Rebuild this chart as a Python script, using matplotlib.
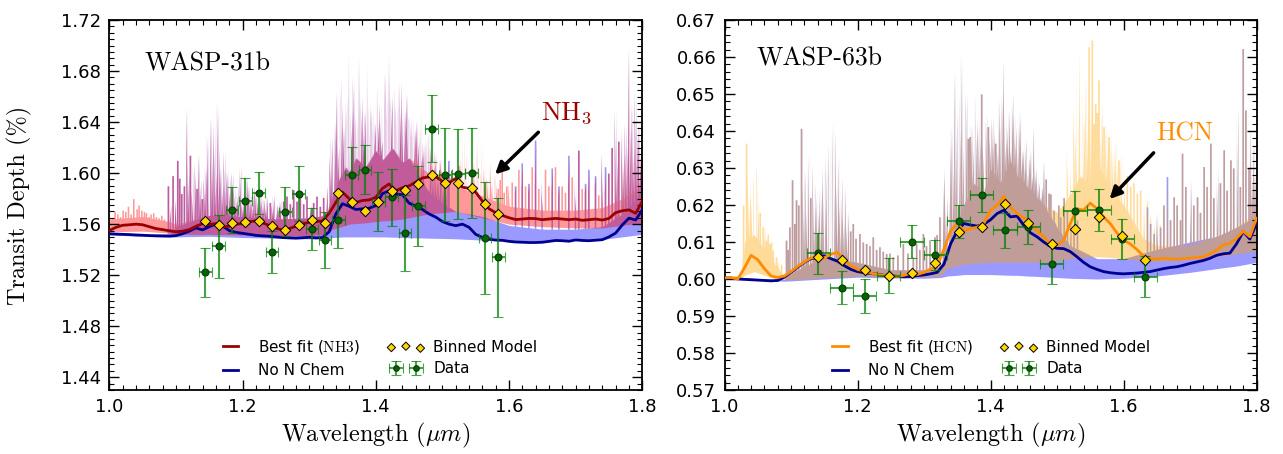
import numpy as np
import matplotlib
matplotlib.use('Agg')
import matplotlib.pyplot as plt
from matplotlib.ticker import MultipleLocator, FormatStrFormatter
from matplotlib.legend_handler import HandlerPathCollection, HandlerErrorbar

plt.rcParams['mathtext.fontset'] = 'cm'
plt.rcParams['font.family'] = ['DejaVu Sans']

# common smooth-model wavelength grid (um), 0.01 um steps from 1.00 to 1.80
model_wl = np.linspace(1.0, 1.8, 81)

# ================= WASP-31b =================
w31_data_wl = [1.144, 1.164, 1.184, 1.204, 1.224, 1.244, 1.264, 1.284, 1.304, 1.324, 1.344, 1.364,
               1.384, 1.404, 1.424, 1.444, 1.464, 1.484, 1.504, 1.524, 1.544, 1.564, 1.584]
w31_depth = [1.5224, 1.5425, 1.5712, 1.5783, 1.5843, 1.5381, 1.5699, 1.5840, 1.5561, 1.5477, 1.5629, 1.5986,
             1.6025, 1.5777, 1.5809, 1.5532, 1.5744, 1.6349, 1.5989, 1.5994, 1.6002, 1.5488, 1.5342]
w31_err = [0.0192, 0.0250, 0.0180, 0.0180, 0.0167, 0.0163, 0.0193, 0.0213, 0.0164, 0.0219, 0.0219, 0.0220,
           0.0192, 0.0232, 0.0227, 0.0298, 0.0313, 0.0260, 0.0364, 0.0355, 0.0352, 0.0439, 0.0466]
w31_xerr = 0.0095
w31_binned = [1.5624, 1.5590, 1.5608, 1.5616, 1.5621, 1.5582, 1.5553, 1.5597, 1.5629, 1.5608, 1.5845, 1.5770,
              1.5704, 1.5775, 1.5861, 1.5867, 1.5916, 1.5986, 1.5921, 1.5921, 1.5887, 1.5759, 1.5676]

w31_bestfit = [1.5550, 1.5575, 1.5591, 1.5595, 1.5600, 1.5595, 1.5580, 1.5565, 1.5557, 1.5548,
               1.5540, 1.5545, 1.5557, 1.5583, 1.5604, 1.5598, 1.5604, 1.5580, 1.5583, 1.5600,
               1.5604, 1.5620, 1.5625, 1.5610, 1.5590, 1.5570, 1.5551, 1.5565, 1.5583, 1.5600,
               1.5615, 1.5620, 1.5625, 1.5686, 1.5770, 1.5850, 1.5800, 1.5770, 1.5785, 1.5790,
               1.5810, 1.5880, 1.5915, 1.5862, 1.5885, 1.5900, 1.5930, 1.5962, 1.5970, 1.5972,
               1.5935, 1.5925, 1.5958, 1.5890, 1.5880, 1.5850, 1.5780, 1.5720, 1.5690, 1.5668,
               1.5650, 1.5636, 1.5640, 1.5645, 1.5643, 1.5635, 1.5640, 1.5645, 1.5640, 1.5635,
               1.5640, 1.5630, 1.5635, 1.5640, 1.5632, 1.5645, 1.5690, 1.5705, 1.5712, 1.5685,
               1.5780]
w31_nochem = [1.5525, 1.5522, 1.5520, 1.5518, 1.5515, 1.5513, 1.5510, 1.5508, 1.5507, 1.5506,
              1.5510, 1.5525, 1.5545, 1.5570, 1.5555, 1.5580, 1.5600, 1.5585, 1.5550, 1.5535,
              1.5528, 1.5520, 1.5512, 1.5508, 1.5505, 1.5500, 1.5495, 1.5492, 1.5490, 1.5493,
              1.5497, 1.5492, 1.5495, 1.5540, 1.5680, 1.5760, 1.5740, 1.5715, 1.5720, 1.5725,
              1.5745, 1.5840, 1.5860, 1.5835, 1.5830, 1.5765, 1.5740, 1.5715, 1.5680, 1.5655,
              1.5620, 1.5600, 1.5588, 1.5600, 1.5575, 1.5520, 1.5495, 1.5482, 1.5475, 1.5473,
              1.5465, 1.5460, 1.5458, 1.5456, 1.5456, 1.5458, 1.5465, 1.5472, 1.5470, 1.5466,
              1.5476, 1.5472, 1.5470, 1.5474, 1.5478, 1.5500, 1.5530, 1.5594, 1.5647, 1.5632,
              1.5712]

# high-resolution spectra: continuum band (lo/hi) on a coarse grid + individual line peaks
w31_hr_wl = [1.00, 1.05, 1.09, 1.10, 1.15, 1.20, 1.25, 1.30, 1.325, 1.335, 1.345, 1.355, 1.36, 1.37,
             1.385, 1.40, 1.41, 1.425, 1.44, 1.45, 1.465, 1.48, 1.50, 1.52, 1.56, 1.60, 1.65, 1.70,
             1.74, 1.77, 1.80]
w31_nochem_hr_lo = [1.5515, 1.5505, 1.5500, 1.5500, 1.5505, 1.5495, 1.5490, 1.5485, 1.5485, 1.5495, 1.5498,
                    1.5500, 1.5500, 1.5500, 1.5500, 1.5500, 1.5500, 1.5498, 1.5495, 1.5493, 1.5492, 1.5490,
                    1.5488, 1.5485, 1.5475, 1.5470, 1.5470, 1.5475, 1.5480, 1.5500, 1.5520]
w31_nochem_hr_hi = [1.5535, 1.5525, 1.5525, 1.5580, 1.5670, 1.5660, 1.5640, 1.5650, 1.5670, 1.5820, 1.5950,
                    1.6050, 1.6000, 1.6120, 1.6050, 1.6180, 1.6100, 1.6200, 1.6080, 1.6120, 1.5980, 1.5850,
                    1.5760, 1.5700, 1.5660, 1.5590, 1.5560, 1.5560, 1.5580, 1.5680, 1.5850]
w31_best_hr_lo = [1.5540, 1.5545, 1.5530, 1.5520, 1.5520, 1.5515, 1.5510, 1.5510, 1.5520, 1.5560, 1.5575,
                  1.5590, 1.5600, 1.5605, 1.5610, 1.5620, 1.5625, 1.5630, 1.5640, 1.5650, 1.5665, 1.5680,
                  1.5690, 1.5700, 1.5650, 1.5600, 1.5580, 1.5570, 1.5570, 1.5590, 1.5610]
w31_best_hr_hi = [1.5640, 1.5660, 1.5620, 1.5600, 1.5670, 1.5660, 1.5640, 1.5650, 1.5670, 1.5820, 1.5950,
                  1.6050, 1.6000, 1.6120, 1.6050, 1.6180, 1.6100, 1.6200, 1.6080, 1.6120, 1.6050, 1.6000,
                  1.5980, 1.5900, 1.5820, 1.5740, 1.5710, 1.5710, 1.5730, 1.5800, 1.5900]
# water line peaks (present in both spectra)
w31_h2o_line_wl = [1.088, 1.091, 1.095, 1.099, 1.102, 1.105, 1.108, 1.112, 1.116, 1.118, 1.121, 1.124,
                   1.126, 1.128, 1.131, 1.134, 1.136, 1.139, 1.142, 1.144, 1.147, 1.149, 1.152, 1.154,
                   1.157, 1.159, 1.162, 1.164, 1.167, 1.169, 1.172, 1.174, 1.177, 1.179, 1.182, 1.184,
                   1.187, 1.189, 1.192, 1.194, 1.196, 1.199, 1.201, 1.204, 1.206, 1.209, 1.211, 1.214,
                   1.216, 1.219, 1.221, 1.224, 1.226, 1.229, 1.231, 1.234, 1.236, 1.241, 1.244, 1.246,
                   1.251, 1.254, 1.256, 1.261, 1.266, 1.271, 1.276, 1.281, 1.286, 1.291, 1.296, 1.301,
                   1.306, 1.311, 1.316, 1.321, 1.326, 1.331, 1.333, 1.336, 1.338, 1.341, 1.343, 1.346,
                   1.348, 1.351, 1.353, 1.355, 1.357, 1.359, 1.361, 1.363, 1.366, 1.368, 1.370, 1.372,
                   1.374, 1.376, 1.378, 1.381, 1.383, 1.386, 1.388, 1.390, 1.392, 1.394, 1.396, 1.398,
                   1.401, 1.403, 1.406, 1.408, 1.411, 1.413, 1.415, 1.417, 1.419, 1.421, 1.423, 1.426,
                   1.428, 1.430, 1.432, 1.434, 1.436, 1.439, 1.441, 1.443, 1.446, 1.448, 1.450, 1.452,
                   1.454, 1.456, 1.458, 1.461, 1.463, 1.466, 1.468, 1.471, 1.473, 1.475, 1.477, 1.479,
                   1.481, 1.484, 1.486, 1.489, 1.491, 1.494, 1.496, 1.499, 1.501, 1.504, 1.506, 1.509,
                   1.609, 1.619, 1.629, 1.639, 1.649, 1.664, 1.674, 1.689, 1.699, 1.704, 1.714, 1.719,
                   1.729, 1.739, 1.744, 1.749, 1.754, 1.759, 1.761, 1.764, 1.769, 1.771, 1.774, 1.776,
                   1.779, 1.781, 1.784, 1.786, 1.789, 1.791, 1.794, 1.796, 1.799]
w31_h2o_line_top = [1.590, 1.575, 1.598, 1.580, 1.610, 1.596, 1.584, 1.590, 1.652, 1.600, 1.614, 1.586,
                    1.608, 1.600, 1.588, 1.615, 1.595, 1.580, 1.597, 1.605, 1.631, 1.590, 1.644, 1.620,
                    1.640, 1.600, 1.656, 1.620, 1.605, 1.590, 1.618, 1.600, 1.603, 1.585, 1.597, 1.600,
                    1.590, 1.578, 1.584, 1.592, 1.605, 1.575, 1.588, 1.585, 1.597, 1.590, 1.583, 1.577,
                    1.590, 1.585, 1.578, 1.575, 1.584, 1.578, 1.580, 1.574, 1.582, 1.577, 1.575, 1.583,
                    1.576, 1.573, 1.579, 1.578, 1.582, 1.576, 1.587, 1.578, 1.585, 1.576, 1.582, 1.575,
                    1.577, 1.582, 1.574, 1.581, 1.590, 1.614, 1.630, 1.605, 1.640, 1.665, 1.620, 1.676,
                    1.655, 1.637, 1.625, 1.660, 1.640, 1.695, 1.625, 1.650, 1.676, 1.635, 1.645, 1.620,
                    1.694, 1.640, 1.660, 1.637, 1.650, 1.686, 1.625, 1.655, 1.640, 1.650, 1.628, 1.640,
                    1.670, 1.640, 1.655, 1.625, 1.650, 1.680, 1.660, 1.640, 1.693, 1.650, 1.660, 1.670,
                    1.640, 1.655, 1.625, 1.673, 1.650, 1.672, 1.630, 1.650, 1.663, 1.645, 1.640, 1.628,
                    1.644, 1.620, 1.635, 1.642, 1.625, 1.650, 1.615, 1.624, 1.610, 1.630, 1.612, 1.637,
                    1.622, 1.615, 1.605, 1.618, 1.600, 1.600, 1.612, 1.603, 1.600, 1.595, 1.598, 1.610,
                    1.590, 1.608, 1.592, 1.626, 1.595, 1.604, 1.590, 1.614, 1.595, 1.618, 1.592, 1.603,
                    1.598, 1.616, 1.605, 1.600, 1.620, 1.650, 1.610, 1.625, 1.634, 1.615, 1.640, 1.620,
                    1.699, 1.635, 1.655, 1.620, 1.665, 1.630, 1.640, 1.615, 1.650]
# NH3 line peaks (best fit only)
w31_nh3_line_wl = [1.004, 1.008, 1.012, 1.016, 1.020, 1.024, 1.028, 1.032, 1.036, 1.041, 1.044, 1.048,
                   1.052, 1.055, 1.059, 1.062, 1.066, 1.070, 1.074, 1.078, 1.082,
                   1.511, 1.514, 1.516, 1.519, 1.521, 1.524, 1.527, 1.529, 1.531, 1.533, 1.535, 1.537,
                   1.539, 1.542, 1.544, 1.547, 1.549, 1.551, 1.553, 1.555, 1.557, 1.559, 1.562, 1.564,
                   1.567, 1.569, 1.571, 1.574, 1.576, 1.578, 1.580, 1.583, 1.586, 1.589, 1.592, 1.596,
                   1.599, 1.604, 1.609, 1.614, 1.619, 1.624, 1.629, 1.634, 1.639, 1.644, 1.649, 1.654,
                   1.659, 1.664, 1.669, 1.674, 1.679, 1.684, 1.689, 1.694, 1.699, 1.709, 1.714, 1.719,
                   1.729, 1.734, 1.744]
w31_nh3_line_top = [1.565, 1.570, 1.568, 1.566, 1.571, 1.570, 1.574, 1.568, 1.580, 1.572, 1.575, 1.571,
                    1.570, 1.569, 1.566, 1.568, 1.569, 1.566, 1.565, 1.567, 1.564,
                    1.598, 1.600, 1.590, 1.592, 1.600, 1.606, 1.612, 1.598, 1.634, 1.600, 1.610, 1.615,
                    1.587, 1.595, 1.602, 1.610, 1.603, 1.625, 1.605, 1.600, 1.598, 1.625, 1.605, 1.596,
                    1.598, 1.582, 1.609, 1.590, 1.595, 1.600, 1.592, 1.588, 1.595, 1.605, 1.585, 1.590,
                    1.592, 1.593, 1.585, 1.603, 1.588, 1.590, 1.585, 1.605, 1.590, 1.588, 1.585, 1.603,
                    1.590, 1.585, 1.605, 1.582, 1.590, 1.585, 1.590, 1.597, 1.582, 1.588, 1.585, 1.585,
                    1.590, 1.583, 1.585]

# ================= WASP-63b =================
w63_data_wl = [1.141, 1.176, 1.211, 1.247, 1.282, 1.317, 1.352, 1.387, 1.422, 1.457, 1.492, 1.527,
               1.563, 1.598, 1.633]
w63_depth = [0.6069, 0.5977, 0.5954, 0.6009, 0.6101, 0.6065, 0.6156, 0.6226, 0.6132, 0.6141, 0.6041,
             0.6185, 0.6186, 0.6107, 0.6006]
w63_err = [0.0055, 0.0045, 0.0046, 0.0047, 0.0045, 0.0041, 0.0045, 0.0046, 0.0047, 0.0046, 0.0054,
           0.0052, 0.0056, 0.0054, 0.0055]
w63_xerr = 0.0175
w63_binned = [0.6059, 0.6052, 0.6024, 0.6009, 0.6016, 0.6044, 0.6126, 0.6141, 0.6202, 0.6151, 0.6094,
              0.6134, 0.6168, 0.6117, 0.6051]

w63_bestfit = [0.6003, 0.6004, 0.6000, 0.6030, 0.6064, 0.6052, 0.6028, 0.6008, 0.6004, 0.6008,
               0.6020, 0.6034, 0.6046, 0.6057, 0.6059, 0.6057, 0.6067, 0.6072, 0.6050, 0.6036,
               0.6026, 0.6021, 0.6016, 0.6012, 0.6010, 0.6009, 0.6007, 0.6010, 0.6015, 0.6012,
               0.6018, 0.6027, 0.6038, 0.6080, 0.6130, 0.6150, 0.6130, 0.6136, 0.6140, 0.6150,
               0.6185, 0.6200, 0.6223, 0.6195, 0.6177, 0.6165, 0.6150, 0.6130, 0.6114, 0.6095,
               0.6090, 0.6105, 0.6150, 0.6190, 0.6186, 0.6205, 0.6190, 0.6168, 0.6150, 0.6125,
               0.6105, 0.6095, 0.6080, 0.6062, 0.6055, 0.6053, 0.6056, 0.6054, 0.6053, 0.6055,
               0.6056, 0.6058, 0.6060, 0.6068, 0.6078, 0.6092, 0.6096, 0.6110, 0.6129, 0.6114,
               0.6164]
w63_nochem = [0.6003, 0.6002, 0.6000, 0.5999, 0.5998, 0.5997, 0.5996, 0.5995, 0.5996, 0.6005,
              0.6018, 0.6032, 0.6045, 0.6055, 0.6058, 0.6063, 0.6055, 0.6048, 0.6036, 0.6026,
              0.6020, 0.6017, 0.6015, 0.6013, 0.6010, 0.6009, 0.6007, 0.6006, 0.6007, 0.6009,
              0.6011, 0.6014, 0.6018, 0.6040, 0.6095, 0.6130, 0.6150, 0.6146, 0.6143, 0.6148,
              0.6160, 0.6177, 0.6186, 0.6168, 0.6170, 0.6145, 0.6125, 0.6114, 0.6100, 0.6088,
              0.6083, 0.6082, 0.6074, 0.6060, 0.6045, 0.6033, 0.6026, 0.6020, 0.6017, 0.6015,
              0.6014, 0.6015, 0.6016, 0.6018, 0.6020, 0.6024, 0.6028, 0.6031, 0.6033, 0.6037,
              0.6042, 0.6046, 0.6050, 0.6056, 0.6064, 0.6068, 0.6070, 0.6095, 0.6128, 0.6108,
              0.6150]

w63_nochem_hr_wl = [1.00, 1.09, 1.10, 1.15, 1.20, 1.25, 1.30, 1.325, 1.335, 1.35, 1.36, 1.375, 1.39, 1.40,
                    1.415, 1.43, 1.44, 1.455, 1.47, 1.48, 1.50, 1.52, 1.56, 1.60, 1.65, 1.70, 1.74, 1.77,
                    1.80]
w63_nochem_hr_lo = [0.6000, 0.5994, 0.5995, 0.6000, 0.6005, 0.6003, 0.6002, 0.6004, 0.6008, 0.6010, 0.6012,
                    0.6012, 0.6012, 0.6012, 0.6011, 0.6010, 0.6010, 0.6008, 0.6007, 0.6006, 0.6004, 0.6002,
                    0.6000, 0.6002, 0.6008, 0.6018, 0.6028, 0.6035, 0.6045]
w63_nochem_hr_hi = [0.6005, 0.5999, 0.6015, 0.6060, 0.6045, 0.6025, 0.6025, 0.6035, 0.6080, 0.6150, 0.6200,
                    0.6260, 0.6230, 0.6300, 0.6260, 0.6320, 0.6280, 0.6250, 0.6220, 0.6200, 0.6140, 0.6090,
                    0.6055, 0.6055, 0.6080, 0.6100, 0.6115, 0.6140, 0.6170]
w63_best_hr_wl = [1.00, 1.025, 1.03, 1.045, 1.06, 1.08, 1.09, 1.10, 1.15, 1.20, 1.25, 1.30, 1.325, 1.335,
                  1.35, 1.36, 1.375, 1.39, 1.40, 1.415, 1.43, 1.44, 1.455, 1.47, 1.48, 1.50, 1.52, 1.535,
                  1.55, 1.565, 1.58, 1.60, 1.63, 1.65, 1.70, 1.74, 1.77, 1.80]
w63_best_hr_lo = [0.6002, 0.6002, 0.6010, 0.6020, 0.6010, 0.6000, 0.5998, 0.5998, 0.6003, 0.6008, 0.6005,
                  0.6005, 0.6008, 0.6030, 0.6035, 0.6040, 0.6042, 0.6044, 0.6045, 0.6045, 0.6045, 0.6045,
                  0.6045, 0.6045, 0.6045, 0.6048, 0.6055, 0.6058, 0.6060, 0.6060, 0.6058, 0.6055, 0.6048,
                  0.6048, 0.6052, 0.6060, 0.6068, 0.6075]
w63_best_hr_hi = [0.6008, 0.6010, 0.6100, 0.6120, 0.6080, 0.6030, 0.6005, 0.6015, 0.6060, 0.6045, 0.6025,
                  0.6025, 0.6035, 0.6080, 0.6150, 0.6200, 0.6260, 0.6230, 0.6300, 0.6260, 0.6320, 0.6280,
                  0.6250, 0.6220, 0.6200, 0.6180, 0.6230, 0.6280, 0.6250, 0.6300, 0.6240, 0.6200, 0.6110,
                  0.6090, 0.6090, 0.6115, 0.6140, 0.6180]
w63_h2o_line_wl = [1.0925, 1.0950, 1.0976, 1.1016, 1.1050, 1.1076, 1.1110, 1.1151, 1.1180, 1.1201, 1.1230,
                   1.1252, 1.1290, 1.1327, 1.1350, 1.1377, 1.1400, 1.1427, 1.1450, 1.1477, 1.1500, 1.1527,
                   1.1550, 1.1568, 1.1590, 1.1613, 1.1630, 1.1653, 1.1680, 1.1703, 1.1730, 1.1753, 1.1780,
                   1.1803, 1.1830, 1.1853, 1.1890, 1.1929, 1.1970, 1.2029, 1.2080, 1.2130, 1.2180, 1.2230,
                   1.2280, 1.2330, 1.2380, 1.2431, 1.2480, 1.2531, 1.2600, 1.2682, 1.2750, 1.2832, 1.2882,
                   1.2930, 1.2983, 1.3030, 1.3083, 1.3158, 1.3190, 1.3233, 1.3260, 1.3284, 1.3310, 1.3334,
                   1.3360, 1.3384, 1.3410, 1.3430, 1.3459, 1.3480, 1.3509, 1.3530, 1.3560, 1.3580, 1.3610,
                   1.3630, 1.3660, 1.3685, 1.3710, 1.3730, 1.3760, 1.3780, 1.3810, 1.3830, 1.3860, 1.3886,
                   1.3910, 1.3930, 1.3961, 1.3990, 1.4021, 1.4040, 1.4071, 1.4100, 1.4121, 1.4150, 1.4170,
                   1.4196, 1.4220, 1.4250, 1.4272, 1.4300, 1.4322, 1.4350, 1.4372, 1.4400, 1.4420, 1.4447,
                   1.4470, 1.4497, 1.4520, 1.4550, 1.4572, 1.4600, 1.4620, 1.4647, 1.4670, 1.4698, 1.4720,
                   1.4748, 1.4770, 1.4798, 1.4830, 1.4873, 1.4900, 1.4948, 1.5020, 1.5049, 1.5100, 1.5149,
                   1.5200, 1.5249, 1.5300,
                   1.6353, 1.6400, 1.6454, 1.6500, 1.6550, 1.6600, 1.6654, 1.6700, 1.6755, 1.6800, 1.6850,
                   1.6880, 1.6930, 1.7005, 1.7050, 1.7106, 1.7150, 1.7206, 1.7250, 1.7306, 1.7350, 1.7407,
                   1.7450, 1.7507, 1.7550, 1.7607, 1.7650, 1.7708, 1.7750, 1.7793, 1.7833, 1.7880, 1.7908,
                   1.7930, 1.7958, 1.7980]
w63_h2o_line_top = [0.6105, 0.6080, 0.6141, 0.6268, 0.6150, 0.6214, 0.6200, 0.6407, 0.6250, 0.6295, 0.6180,
                    0.6340, 0.6220, 0.6313, 0.6200, 0.6259, 0.6180, 0.6236, 0.6250, 0.6304, 0.6200, 0.6331,
                    0.6280, 0.6367, 0.6240, 0.6430, 0.6300, 0.6403, 0.6260, 0.6331, 0.6200, 0.6277, 0.6180,
                    0.6250, 0.6150, 0.6186, 0.6130, 0.6150, 0.6110, 0.6123, 0.6100, 0.6096, 0.6090, 0.6114,
                    0.6080, 0.6087, 0.6075, 0.6069, 0.6070, 0.6060, 0.6065, 0.6096, 0.6070, 0.6060, 0.6096,
                    0.6080, 0.6123, 0.6090, 0.6105, 0.6114, 0.6120, 0.6168, 0.6200, 0.6277, 0.6300, 0.6222,
                    0.6250, 0.6367, 0.6420, 0.6300, 0.6565, 0.6450, 0.6502, 0.6400, 0.6610, 0.6350, 0.6457,
                    0.6500, 0.6380, 0.6385, 0.6420, 0.6350, 0.6502, 0.6400, 0.6439, 0.6380, 0.6500, 0.6367,
                    0.6350, 0.6450, 0.6412, 0.6380, 0.6439, 0.6400, 0.6367, 0.6350, 0.6484, 0.6420, 0.6500,
                    0.6592, 0.6380, 0.6420, 0.6457, 0.6350, 0.6502, 0.6450, 0.6412, 0.6360, 0.6420, 0.6457,
                    0.6350, 0.6349, 0.6380, 0.6300, 0.6331, 0.6350, 0.6280, 0.6412, 0.6300, 0.6277, 0.6260,
                    0.6222, 0.6250, 0.6322, 0.6270, 0.6232, 0.6230, 0.6186, 0.6200, 0.6168, 0.6220, 0.6186,
                    0.6180, 0.6141, 0.6160,
                    0.6195, 0.6150, 0.6123, 0.6180, 0.6140, 0.6200, 0.6277, 0.6160, 0.6222, 0.6200, 0.6160,
                    0.6340, 0.6250, 0.6268, 0.6200, 0.6222, 0.6180, 0.6304, 0.6250, 0.6367, 0.6220, 0.6295,
                    0.6260, 0.6349, 0.6240, 0.6322, 0.6300, 0.6466, 0.6250, 0.6623, 0.6457, 0.6300, 0.6412,
                    0.6280, 0.6367, 0.6350]
w63_hcn_line_wl = [1.0280, 1.0324, 1.0350, 1.0374, 1.0400, 1.0424, 1.0440, 1.0464, 1.0480, 1.0500, 1.0530,
                   1.0574, 1.0600, 1.0625, 1.0650, 1.0675, 1.0700, 1.0725, 1.0775, 1.0800, 1.0850,
                   1.5150, 1.5200, 1.5250, 1.5280, 1.5300, 1.5324, 1.5360, 1.5380, 1.5400, 1.5430, 1.5450,
                   1.5475, 1.5500, 1.5525, 1.5550, 1.5575, 1.5600, 1.5625, 1.5650, 1.5670, 1.5700, 1.5730,
                   1.5750, 1.5775, 1.5800, 1.5830, 1.5851, 1.5880, 1.5900, 1.5925, 1.5960, 1.5980, 1.6002,
                   1.6050, 1.6102, 1.6150, 1.6202, 1.6250, 1.6303, 1.6350, 1.6403, 1.6450, 1.6550, 1.6650]
w63_hcn_line_top = [0.6200, 0.6367, 0.6300, 0.6259, 0.6220, 0.6280, 0.6250, 0.6313, 0.6280, 0.6222, 0.6180,
                    0.6141, 0.6150, 0.6105, 0.6120, 0.6096, 0.6100, 0.6078, 0.6060, 0.6050, 0.6040,
                    0.6350, 0.6300, 0.6480, 0.6400, 0.6550, 0.6615, 0.6500, 0.6400, 0.6443, 0.6550, 0.6450,
                    0.6628, 0.6500, 0.6646, 0.6420, 0.6475, 0.6450, 0.6538, 0.6400, 0.6480, 0.6412, 0.6420,
                    0.6380, 0.6385, 0.6400, 0.6350, 0.6340, 0.6380, 0.6320, 0.6322, 0.6340, 0.6300, 0.6286,
                    0.6280, 0.6250, 0.6260, 0.6232, 0.6240, 0.6205, 0.6220, 0.6177, 0.6150, 0.6150, 0.6130]


def hires_outline(grid, lo, hi, line_wls, line_tops, half=0.0012):
    """Continuum band plus thin line peaks as one outline (drawn as a single alpha fill)."""
    grid = np.asarray(grid, float)
    xs, ys = [list(grid), list(np.interp(grid, grid, hi))]
    for w, t in zip(line_wls, line_tops):
        b = np.interp(w, grid, hi)
        t = max(t, b)
        xs += [w - half - 1e-6, w - half, w + half, w + half + 1e-6]
        ys += [b, t, t, b]
    xs = np.asarray(xs); ys = np.asarray(ys)
    order = np.argsort(xs, kind='stable')
    xs, ys = xs[order], ys[order]
    return xs, np.interp(xs, grid, lo), ys


fig = plt.figure(figsize=(12.83, 4.54), dpi=100)
ax1 = fig.add_axes([109.3 / 1283, 64 / 454, 533 / 1283, 370 / 454])
ax2 = fig.add_axes([724.5 / 1283, 64 / 454, 532 / 1283, 370 / 454])

err_col = (0.0, 0.5, 0.0, 0.72)


def draw_panel(ax, nochem_hr, best_hr, best_col_hr, best_col, best_vals, nochem_vals,
               dwl, ddep, derr, dxerr, binned, best_label):
    x, l, h = nochem_hr
    ax.fill_between(x, l, h, color='blue', alpha=0.4, lw=0, zorder=1)
    x, l, h = best_hr
    ax.fill_between(x, l, h, color=best_col_hr, alpha=0.4, lw=0, zorder=1)
    lb, = ax.plot(model_wl, best_vals, color=best_col, lw=2.0, zorder=3, label=best_label)
    ln, = ax.plot(model_wl, nochem_vals, color='#000090', lw=2.0, zorder=2.9, label='No N Chem')
    eb = ax.errorbar(dwl, ddep, yerr=derr, xerr=dxerr, fmt='o', ms=5, mfc='darkgreen', mec='#0a3a0a',
                     mew=0.8, ecolor=err_col, elinewidth=1.5, capsize=3.5, capthick=1.5, zorder=4,
                     label='Data')
    sc = ax.scatter(dwl, binned, marker='D', s=28, facecolor='gold', edgecolor='k', linewidth=0.7,
                    zorder=5, label='Binned Model')
    return [lb, ln, sc, eb]


h1 = draw_panel(ax1,
                hires_outline(w31_hr_wl, w31_nochem_hr_lo, w31_nochem_hr_hi, w31_h2o_line_wl, w31_h2o_line_top),
                hires_outline(w31_hr_wl, w31_best_hr_lo, w31_best_hr_hi,
                              w31_h2o_line_wl + w31_nh3_line_wl, w31_h2o_line_top + w31_nh3_line_top),
                'red', '#990000', w31_bestfit, w31_nochem,
                w31_data_wl, w31_depth, w31_err, w31_xerr, w31_binned, r'Best fit ($\mathrm{NH3}$)')
h2 = draw_panel(ax2,
                hires_outline(w63_nochem_hr_wl, w63_nochem_hr_lo, w63_nochem_hr_hi, w63_h2o_line_wl, w63_h2o_line_top),
                hires_outline(w63_best_hr_wl, w63_best_hr_lo, w63_best_hr_hi,
                              w63_h2o_line_wl + w63_hcn_line_wl, w63_h2o_line_top + w63_hcn_line_top),
                'orange', 'darkorange', w63_bestfit, w63_nochem,
                w63_data_wl, w63_depth, w63_err, w63_xerr, w63_binned, r'Best fit ($\mathrm{HCN}$)')

for ax, handles, ylim, yticks, yminor, lx in [
        (ax1, h1, (1.43, 1.72), np.arange(1.44, 1.7201, 0.04), 0.005, 0.19),
        (ax2, h2, (0.57, 0.67), np.arange(0.57, 0.6701, 0.01), 0.002, 0.18)]:
    ax.set_xlim(1.0, 1.8)
    ax.set_ylim(*ylim)
    ax.set_xticks([1.0, 1.2, 1.4, 1.6, 1.8])
    ax.xaxis.set_minor_locator(MultipleLocator(0.02))
    ax.set_yticks(yticks)
    ax.yaxis.set_minor_locator(MultipleLocator(yminor))
    ax.xaxis.set_major_formatter(FormatStrFormatter('%.1f'))
    ax.yaxis.set_major_formatter(FormatStrFormatter('%.2f'))
    ax.tick_params(which='both', direction='in', top=True, right=True, labelsize=13, pad=6)
    ax.tick_params(which='major', length=7, width=1)
    ax.tick_params(which='minor', length=3.5, width=0.8)
    for s in ax.spines.values():
        s.set_linewidth(1.3)
    ax.set_xlabel('Wavelength ($\\mu m$)', fontfamily='cmr10', fontsize=17.5, labelpad=3)
    sc_h, eb_h = handles[2], handles[3]
    ax.legend(handles=handles, ncol=2, loc='lower left', bbox_to_anchor=(lx, 0.012),
              frameon=False, fontsize=11, numpoints=2, scatterpoints=3, borderpad=0,
              handlelength=1.6, handletextpad=1.0, columnspacing=2.2, labelspacing=0.45,
              markerscale=0.8,
              handler_map={sc_h: HandlerPathCollection(marker_pad=-0.15),
                           eb_h: HandlerErrorbar(marker_pad=0.15, xerr_size=0.45, yerr_size=0.45)})

ax1.set_ylabel('Transit Depth (%)', fontfamily='cmr10', fontsize=17.5)
ax1.yaxis.set_label_coords(-0.145, 0.5)

ax1.text(0.066, 0.883, 'WASP-31b', transform=ax1.transAxes, fontfamily='cmr10', fontsize=18.5,
         va='center', ha='left')
ax2.text(0.061, 0.896, 'WASP-63b', transform=ax2.transAxes, fontfamily='cmr10', fontsize=18.5,
         va='center', ha='left')

ax1.text(1.687, 1.647, r'$\mathrm{NH_3}$', color='#990000', fontsize=19, ha='center', va='center')
ax1.annotate('', xy=(1.579, 1.599), xytext=(1.644, 1.632),
             arrowprops=dict(arrowstyle='-|>,head_length=0.7,head_width=0.35', color='k', lw=2.5,
                             shrinkA=0, shrinkB=0))
ax2.text(1.6915, 0.6394, 'HCN', color='darkorange', fontfamily='cmr10', fontsize=18.5,
         ha='center', va='center')
ax2.annotate('', xy=(1.579, 0.6216), xytext=(1.6453, 0.6341),
             arrowprops=dict(arrowstyle='-|>,head_length=0.7,head_width=0.35', color='k', lw=2.5,
                             shrinkA=0, shrinkB=0))

fig.savefig('out.png', dpi=100)
